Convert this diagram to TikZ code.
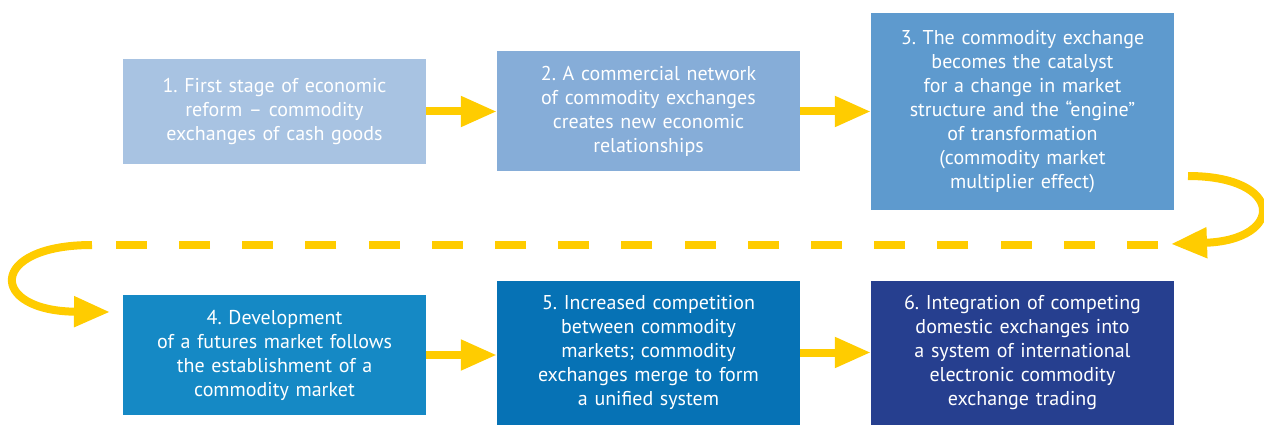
\documentclass[tikz,border=0pt]{standalone}
\usepackage{xcolor}
\usepackage{fontspec}
\setmainfont{PT Sans}
\usepackage{tikz}
\usetikzlibrary{arrows.meta,positioning}

\definecolor{stageone}{HTML}{A8C3E2}
\definecolor{stagetwo}{HTML}{86ADD8}
\definecolor{stagethree}{HTML}{5E9ACE}
\definecolor{stagefour}{HTML}{1589C5}
\definecolor{stagefive}{HTML}{0672B5}
\definecolor{stagesix}{HTML}{263F8F}
\definecolor{flow}{HTML}{FFCC00}

\begin{document}
\begin{tikzpicture}[
    x=1pt, y=-1pt,
    node distance=374pt,
    stage/.style={
        rectangle,
        text=white,
        text width=296pt,
        align=center,
        minimum width=303pt,
        inner sep=0pt,
        font=\fontsize{20}{24}\selectfont\frenchspacing
    },
    line/.style={
        draw=flow, -{Triangle[length=36pt,width=29pt]}, line width=8pt
    },
    dashline/.style={
        draw=flow, line width=8pt, dash pattern=on 31pt off 32.2pt
    }
]
    \useasboundingbox (0,0) rectangle (1264,425);

    % Nodes
    \node [stage, fill=stageone, minimum height=105pt] (first) at (274.5,111.5)
        {1. First stage of economic\\reform – commodity\\exchanges of cash goods};
    \node [stage, fill=stagetwo, minimum height=120pt, right of=first] (network)
        {2. A commercial network\\of commodity exchanges\\creates new economic\\relationships};
    \node [stage, fill=stagethree, minimum height=196pt, right of=network] (catalyst)
        {3. The commodity exchange\\becomes the catalyst\\for a change in market\\structure and the “engine”\\of transformation\\(commodity market\\multiplier effect)};
    \node [stage, fill=stagefour, minimum height=120pt, below of=first, node distance=243.5pt] (futures)
        {4. Development\\of a futures market follows\\the establishment of a\\commodity market};
    \node [stage, fill=stagefive, minimum height=144pt, below of=network, node distance=241pt] (merge)
        {5. Increased competition\\between commodity\\markets; commodity\\exchanges merge to form\\a unified system};
    \node [stage, fill=stagesix, minimum height=144pt, right of=merge] (integration)
        {6. Integration of competing\\domestic exchanges into\\a system of international\\electronic commodity\\exchange trading};

    % Turn points
    \coordinate (turn_start) at (1188,176);
    \coordinate (turn_end) at (1171,244);
    \coordinate (dash_right) at (1158,245);
    \coordinate (dash_left) at (116,245);
    \coordinate (back_start) at (92,245);
    \coordinate (back_end) at (110,312);

    % Edges
    \path [line] (first) -- (network);
    \path [line] (network) -- (catalyst);
    \path [line] (turn_start) .. controls (1285,176) and (1285,240) .. (turn_end);
    \path [dashline] (dash_right) -- (dash_left);
    \path [line] (back_start) .. controls (-12,245) and (-12,311) .. (back_end);
    \path [line] (futures.east) -- (futures.east -| merge.west);
    \path [line] (merge) -- (integration);

\end{tikzpicture}
\end{document}
